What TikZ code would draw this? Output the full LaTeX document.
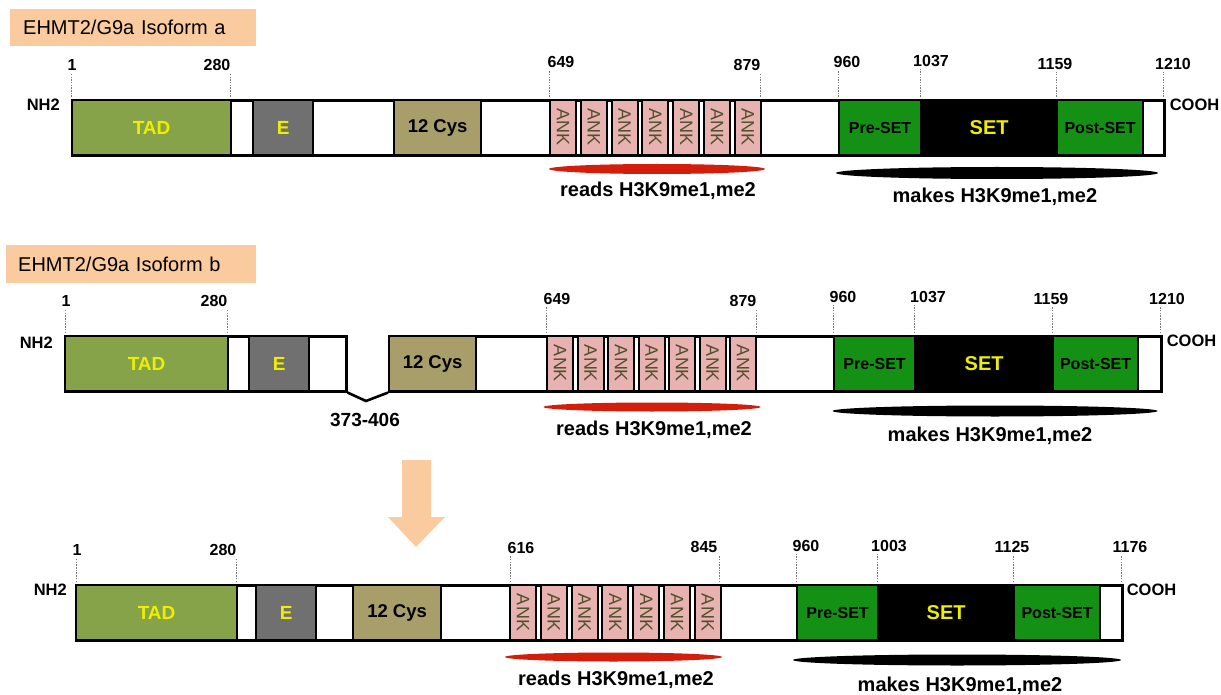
\documentclass[tikz,border=0pt]{standalone}
\usepackage{fontspec}
\setmainfont{Liberation Sans}
\usetikzlibrary{shapes.geometric, calc}

\definecolor{tadgreen}{RGB}{134,163,74}
\definecolor{egrey}{RGB}{112,112,112}
\definecolor{cysbrown}{RGB}{168,158,106}
\definecolor{ankpink}{RGB}{232,178,176}
\definecolor{anktext}{RGB}{80,80,45}
\definecolor{setgreen}{RGB}{20,145,20}
\definecolor{domyellow}{RGB}{238,238,0}
\definecolor{peach}{RGB}{251,203,160}
\definecolor{readred}{RGB}{210,30,10}
\definecolor{tickgrey}{RGB}{120,120,120}

\newcommand{\fsz}[1]{\fontsize{#1}{#1}\selectfont}

\tikzset{
  protbar/.style={draw, line width=2.6pt, fill=white, anchor=north west, minimum height=55, inner sep=0pt},
  dombox/.style={draw, line width=2.2pt, anchor=north west, minimum height=55, inner sep=0pt, font=\bfseries\fsz{19}},
  ankbox/.style={draw, line width=2pt, fill=ankpink, anchor=north west, minimum width=26, minimum height=55,
                 inner sep=0pt, text=anktext, font=\fsz{18}},
  posnum/.style={anchor=south, inner sep=0pt, font=\bfseries\fsz{16}},
  posline/.style={draw=tickgrey, line width=1pt, dash pattern=on 1.5pt off 1.2pt, shorten >=2pt},
  termlbl/.style={inner sep=0pt, font=\bfseries\fsz{16.5}},
  note/.style={inner sep=0pt, font=\bfseries\fsz{20}},
  blob/.style={ellipse, inner sep=0pt, draw=none},
  titlebox/.style={fill=peach, anchor=north west, inner ysep=0pt, minimum height=37, align=left, font=\fsz{20}},
}

\begin{document}
\begin{tikzpicture}[x=1pt, y=-1pt]
\useasboundingbox (0,0) rectangle (1221,695);
\fill[white] (0,0) rectangle (1221,695);

% isoform a
\node[titlebox, text width=220, inner xsep=13] (titleA) at (10,9) {EHMT2/G9a Isoform a};
\node[protbar, minimum width=1092] (barA) at (71,99) {};
\node[dombox, fill=tadgreen, text=domyellow, minimum width=159] (tadA) at (71,99) {TAD};
\node[dombox, fill=egrey, text=domyellow, minimum width=60] (eA) at (252,99) {E};
\node[dombox, fill=cysbrown, minimum width=87, font=\bfseries\fsz{18.5}] (cysA) at (393,99) {12 Cys};
\foreach \i in {1,...,7}
  \node[ankbox] (ankA\i) at ({549+(\i-1)*30.8},99) {\rotatebox{-90}{ANK}};
\node[dombox, fill=setgreen, minimum width=82, font=\bfseries\fsz{16}] (preA) at (838,99) {Pre-SET};
\node[dombox, fill=black, text=domyellow, minimum width=136, font=\bfseries\fsz{20}] (setA) at (920,99) {SET};
\node[dombox, fill=setgreen, minimum width=86, font=\bfseries\fsz{16}] (postA) at (1056,99) {Post-SET};
\node[termlbl, anchor=north east] (nhA) at ($(barA.north west)+(-11,0)$) {NH2};
\node[termlbl, anchor=north west] (coohA) at ($(barA.north east)+(4,0)$) {COOH};
\foreach \tx/\lx/\ly/\t in {71/72/71/1, 230/217/71/280, 549/561/68/649, 760/747/71/879,
                             838/847/68/960, 920/931/67/1037, 1056/1055/70/1159, 1163/1173/70/1210} {
  \node[posnum] (numA\t) at (\lx,\ly) {\t};
  \coordinate (baseA\t) at (\tx,97);
  \draw[posline] (baseA\t) -- (baseA\t |- numA\t.south);
}
\node[blob, fill=readred, minimum width=216, minimum height=10] (readA) at (657,169) {};
\node[note] (readtxtA) at ($(readA)+(1,22)$) {reads H3K9me1,me2};
\node[blob, fill=black, minimum width=322, minimum height=12] (makeA) at (997,173) {};
\node[note] (maketxtA) at ($(makeA)+(-2,24)$) {makes H3K9me1,me2};

% isoform b
\node[titlebox, text width=226, inner xsep=12, minimum height=38] (titleB) at (6,245) {EHMT2/G9a Isoform b};
\node[protbar, minimum width=281] (barB1) at (64,335) {};
\node[protbar, minimum width=772] (barB2) at (388,335) {};
\coordinate (notchB) at (366,401);
\draw[line width=2.6pt] (barB1.south east) -- (notchB) -- (barB2.south west);
\node[note, font=\bfseries\fsz{19}] (delB) at (365,420) {373-406};
\node[dombox, fill=tadgreen, text=domyellow, minimum width=163] (tadB) at (64,335) {TAD};
\node[dombox, fill=egrey, text=domyellow, minimum width=60] (eB) at (248,335) {E};
\node[dombox, fill=cysbrown, minimum width=87, font=\bfseries\fsz{18.5}] (cysB) at (388,335) {12 Cys};
\foreach \i in {1,...,7}
  \node[ankbox] (ankB\i) at ({546+(\i-1)*30.5},335) {\rotatebox{-90}{ANK}};
\node[dombox, fill=setgreen, minimum width=81, font=\bfseries\fsz{16}] (preB) at (833,335) {Pre-SET};
\node[dombox, fill=black, text=domyellow, minimum width=138, font=\bfseries\fsz{20}] (setB) at (914,335) {SET};
\node[dombox, fill=setgreen, minimum width=85, font=\bfseries\fsz{16}] (postB) at (1052,335) {Post-SET};
\node[termlbl, anchor=north east] (nhB) at ($(barB1.north west)+(-11,2)$) {NH2};
\node[termlbl, anchor=north west] (coohB) at ($(barB2.north east)+(4,0)$) {COOH};
\foreach \tx/\lx/\ly/\t in {65/66/307/1, 227/214/307/280, 546/557/305/649, 756/743/307/879,
                             833/843/303/960, 914/928/303/1037, 1052/1051/305/1159, 1160/1167/305/1210} {
  \node[posnum] (numB\t) at (\lx,\ly) {\t};
  \coordinate (baseB\t) at (\tx,333);
  \draw[posline] (baseB\t) -- (baseB\t |- numB\t.south);
}
\node[blob, fill=readred, minimum width=217, minimum height=9] (readB) at (652,407) {};
\node[note] (readtxtB) at ($(readB)+(2,23)$) {reads H3K9me1,me2};
\node[blob, fill=black, minimum width=325, minimum height=11] (makeB) at (995,411) {};
\node[note] (maketxtB) at ($(makeB)+(-5,25)$) {makes H3K9me1,me2};

% arrow
\fill[peach] (402,460) -- (431,460) -- (431,517) -- (445,517) -- (416,547) -- (388,517) -- (402,517) -- cycle;

% shortened form
\node[protbar, minimum width=1046] (barC) at (75,584) {};
\node[dombox, fill=tadgreen, text=domyellow, minimum width=161] (tadC) at (75,584) {TAD};
\node[dombox, fill=egrey, text=domyellow, minimum width=60] (eC) at (255,584) {E};
\node[dombox, fill=cysbrown, minimum width=88, font=\bfseries\fsz{18.5}] (cysC) at (352,584) {12 Cys};
\foreach \i in {1,...,7}
  \node[ankbox] (ankC\i) at ({509+(\i-1)*30.8},584) {\rotatebox{-90}{ANK}};
\node[dombox, fill=setgreen, minimum width=81, font=\bfseries\fsz{16}] (preC) at (796,584) {Pre-SET};
\node[dombox, fill=black, text=domyellow, minimum width=136, font=\bfseries\fsz{20}] (setC) at (877,584) {SET};
\node[dombox, fill=setgreen, minimum width=86, font=\bfseries\fsz{16}] (postC) at (1013,584) {Post-SET};
\node[termlbl, anchor=north east] (nhC) at ($(barC.north west)+(-8,0)$) {NH2};
\node[termlbl, anchor=north west] (coohC) at ($(barC.north east)+(3,0)$) {COOH};
\foreach \tx/\lx/\ly/\t in {76/77/556/1, 236/223/556/280, 510/521/554/616, 719/704/553/845,
                             796/806/552/960, 877/889/552/1003, 1013/1012/553/1125, 1121/1130/553/1176} {
  \node[posnum] (numC\t) at (\lx,\ly) {\t};
  \coordinate (baseC\t) at (\tx,582);
  \draw[posline] (baseC\t) -- (baseC\t |- numC\t.south);
}
\node[blob, fill=readred, minimum width=217, minimum height=9] (readC) at (613.5,657) {};
\node[note] (readtxtC) at ($(readC)+(2.5,23)$) {reads H3K9me1,me2};
\node[blob, fill=black, minimum width=328, minimum height=11] (makeC) at (957,660) {};
\node[note] (maketxtC) at ($(makeC)+(3,26)$) {makes H3K9me1,me2};
\end{tikzpicture}
\end{document}
